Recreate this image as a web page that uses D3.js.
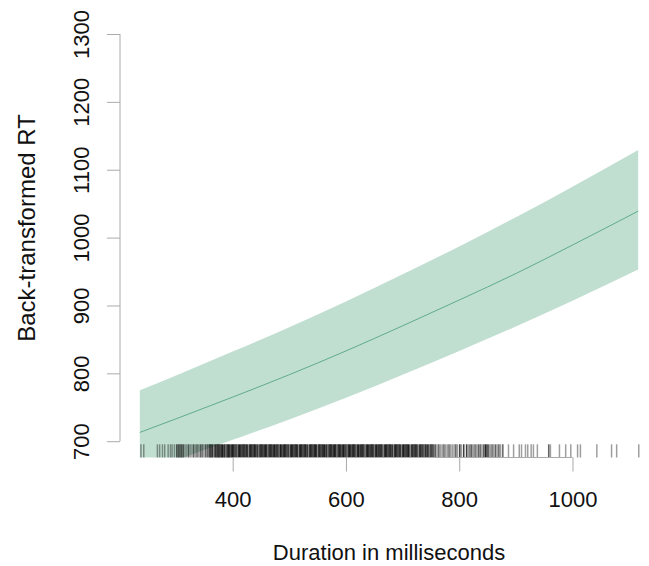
<!DOCTYPE html>
<html>
<head>
<meta charset="utf-8">
<script src="https://cdn.jsdelivr.net/npm/d3@7"></script>
<style>
  body { margin: 0; background: #fff; }
  svg { font-family: "Liberation Sans", Arial, sans-serif; }
</style>
</head>
<body>
<script>
// effect curve (back-transformed RT)
const duration = [236, 300, 400, 500, 600, 700, 800, 900, 1000, 1116]
const fitRT    = [713, 733, 765, 798, 833, 870, 908, 947, 989, 1039]
const upperRT  = [775, 797, 832, 868, 906, 946, 987, 1030, 1075, 1129]
const lowerRT  = [654, 672, 702, 732, 764, 798, 833, 869, 907, 953]

const xTicks = [400, 600, 800, 1000]
const yTicks = [700, 800, 900, 1000, 1100, 1200, 1300]

// rug: [duration, number of observations]
const rugTicks = [
  [238,1],[243,1],[267,1],[271,1],[276,1],[280,1],[286,1],[290,1],[293,1],[297,1],
  [301,2],[303,1],[305,2],[307,1],[309,2],[311,1],[313,2],[316,1],[319,1],[322,2],
  [325,1],[328,1],[331,2],[334,1],[337,2],[340,1],[343,2],[346,2],[349,1],[352,2],
  [355,2],[358,2],
  [360,3],[362,2],[364,3],[366,1],[368,2],[370,3],[372,2],[374,4],[376,3],[378,2],
  [380,3],[382,4],[384,2],[386,3],[388,1],[390,3],[392,4],[394,3],[396,2],[398,3],
  [400,4],[402,3],[404,2],[406,3],[408,1],[410,3],[412,4],[414,3],[416,2],[418,3],
  [420,4],[422,2],[424,3],[426,3],[428,1],[430,3],[432,4],[434,3],[436,2],[438,4],
  [440,3],[442,2],[444,3],[446,1],[448,3],[450,4],[452,3],[454,2],[456,3],[458,4],
  [460,3],[462,1],[464,3],[466,4],[468,3],[470,2],[472,3],[474,4],[476,2],[478,3],
  [480,3],[482,1],[484,4],[486,3],[488,2],[490,3],[492,4],[494,3],[496,2],[498,3],
  [500,1],[502,3],[504,4],[506,3],[508,2],[510,3],[512,4],[514,3],[516,1],[518,3],
  [520,4],[522,3],[524,2],[526,3],[528,4],[530,2],[532,3],[534,1],[536,3],[538,4],
  [540,3],[542,2],[544,3],[546,4],[548,3],[550,1],[552,3],[554,4],[556,2],[558,3],
  [560,3],[562,4],[564,2],[566,3],[568,1],[570,3],[572,4],[574,3],[576,2],[578,3],
  [580,4],[582,3],[584,1],[586,3],[588,4],[590,3],[592,2],[594,3],[596,4],[598,2],
  [600,3],[602,1],[604,3],[606,4],[608,3],[610,2],[612,3],[614,4],[616,3],[618,1],
  [620,3],[622,4],[624,2],[626,3],[628,3],[630,4],[632,2],[634,1],[636,3],[638,4],
  [640,3],[642,2],[644,3],[646,4],[648,3],[650,1],[652,3],[654,4],[656,2],[658,3],
  [660,3],[662,4],[664,2],[666,1],[668,3],[670,4],[672,3],[674,2],[676,3],[678,4],
  [680,2],[682,3],[684,1],[686,3],[688,4],[690,3],[692,2],[694,3],[696,3],[698,1],
  [700,3],[702,4],[704,2],[706,3],[708,3],[710,4],[712,2],[714,1],[716,3],[718,3],
  [720,2],[722,4],[724,3],[726,2],[728,1],[730,3],[732,3],[734,2],[736,3],[738,1],
  [740,3],[742,2],[744,3],[746,2],[748,1],[750,3],[752,2],[754,2],[756,1],[758,2],
  [761,1],[764,2],[767,1],[770,1],[773,2],[776,1],[779,1],[782,2],[785,1],[788,1],
  [791,1],[794,2],[797,1],[801,3],[804,1],[808,3],[813,3],[816,1],[819,2],[822,2],
  [825,1],[828,2],[831,1],[834,2],[837,2],[840,1],[843,2],[846,4],[849,4],[852,2],
  [855,1],[858,2],[861,1],[864,2],[867,1],[870,2],[873,1],[877,2],
  [887,1],[896,1],[906,1],[910,1],[917,1],[921,1],[927,1],[931,1],[938,1],[958,2],
  [961,1],[977,1],[988,1],[997,1],[1009,1],[1014,1],[1043,1],[1069,1],[1078,1],[1117,1]
]

const width = 649
const height = 566
const plot = { left: 120, right: 658, top: 17.7, bottom: 457.5 }

const x = d3.scaleLinear().domain([201, 1151]).range([plot.left, plot.right])
const y = d3.scaleLinear().domain([676, 1324]).range([plot.bottom, plot.top])

const svg = d3.select('body').append('svg')
  .attr('width', width)
  .attr('height', height)

svg.append('clipPath').attr('id', 'plotclip')
  .append('rect')
    .attr('x', plot.left)
    .attr('y', plot.top)
    .attr('width', plot.right - plot.left)
    .attr('height', plot.bottom - plot.top)

const rows = duration.map((d, i) => ({ d, fit: fitRT[i], lo: lowerRT[i], hi: upperRT[i] }))

const inner = svg.append('g').attr('clip-path', 'url(#plotclip)')

inner.append('path')
  .datum(rows)
  .attr('fill', '#c1dfd1')
  .attr('d', d3.area()
    .curve(d3.curveMonotoneX)
    .x(r => x(r.d))
    .y0(r => y(r.lo))
    .y1(r => y(r.hi)))

inner.append('path')
  .datum(rows)
  .attr('fill', 'none')
  .attr('stroke', '#5fab88')
  .attr('stroke-width', 1)
  .attr('d', d3.line()
    .curve(d3.curveMonotoneX)
    .x(r => x(r.d))
    .y(r => y(r.fit)))

// rug along the bottom edge
const rugLen = 0.03 * (plot.bottom - plot.top)
svg.append('g')
  .selectAll('line')
  .data(rugTicks)
  .enter()
  .append('line')
    .attr('x1', r => x(r[0]))
    .attr('x2', r => x(r[0]))
    .attr('y1', plot.bottom)
    .attr('y2', plot.bottom - rugLen)
    .attr('stroke', '#000')
    .attr('stroke-width', 1.5)
    .attr('stroke-opacity', r => 1 - Math.pow(0.62, r[1]))

// x axis
const xAxis = svg.append('g')
  .attr('transform', `translate(0,${plot.bottom})`)
  .call(d3.axisBottom(x).tickValues(xTicks).tickSize(14).tickSizeOuter(0).tickFormat(d3.format('d')))
xAxis.select('.domain')
  .attr('d', `M${x(xTicks[0])},0H${x(xTicks[xTicks.length - 1])}`)
  .attr('stroke', '#aaa')
xAxis.selectAll('.tick line').attr('stroke', '#aaa')
xAxis.selectAll('.tick text')
  .attr('y', 49)
  .attr('dy', 0)
  .attr('fill', '#111')
  .style('font-size', '22px')
  .style('font-family', '"Liberation Sans", Arial, sans-serif')

// y axis
const yAxis = svg.append('g')
  .attr('transform', `translate(${plot.left},0)`)
  .call(d3.axisLeft(y).tickValues(yTicks).tickSize(13).tickSizeOuter(0).tickFormat(d3.format('d')))
yAxis.select('.domain')
  .attr('d', `M0,${y(yTicks[0])}V${y(yTicks[yTicks.length - 1])}`)
  .attr('stroke', '#aaa')
yAxis.selectAll('.tick line').attr('stroke', '#aaa')
yAxis.selectAll('.tick text')
  .attr('x', null)
  .attr('dy', 0)
  .attr('transform', 'translate(-31,0) rotate(-90)')
  .attr('text-anchor', 'middle')
  .attr('fill', '#111')
  .style('font-size', '22px')
  .style('font-family', '"Liberation Sans", Arial, sans-serif')

// axis titles
svg.append('text')
  .attr('x', (plot.left + plot.right) / 2)
  .attr('y', 560)
  .attr('text-anchor', 'middle')
  .attr('fill', '#111')
  .style('font-size', '22px')
  .text('Duration in milliseconds')

svg.append('text')
  .attr('transform', 'translate(35,228) rotate(-90)')
  .attr('text-anchor', 'middle')
  .attr('fill', '#111')
  .style('font-size', '24px')
  .text('Back-transformed RT')
</script>
</body>
</html>
